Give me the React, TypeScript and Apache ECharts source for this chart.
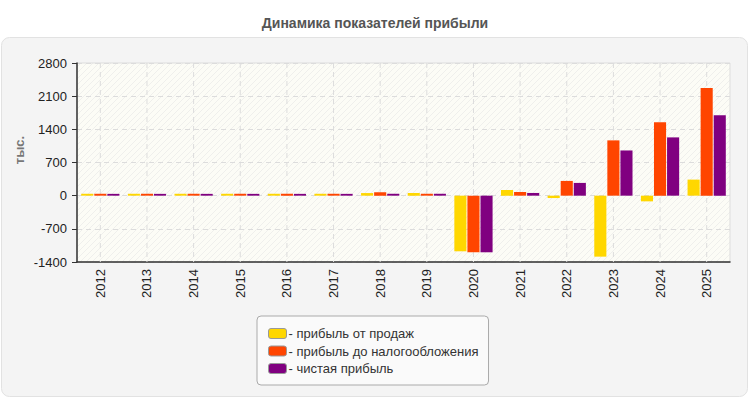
import React, { useEffect, useRef } from "react";
import * as echarts from "echarts";

const years = ["2012", "2013", "2014", "2015", "2016", "2017", "2018", "2019", "2020", "2021", "2022", "2023", "2024", "2025"];
const salesProfit = [40, 40, 40, 40, 40, 40, 55, 55, -1174, 120, -50, -1287, -120, 339];
const preTaxProfit = [40, 40, 40, 40, 40, 40, 70, 40, -1195, 78, 311, 1167, 1548, 2270];
const netProfit = [38, 38, 38, 38, 38, 38, 40, 40, -1195, 57, 269, 954, 1230, 1697];
const seriesNames = ["прибыль от продаж", "прибыль до налогообложения", "чистая прибыль"];
const seriesColors = ["#FFD700", "#FF4500", "#800080"];

function makeHatch(): HTMLCanvasElement {
  const c = document.createElement("canvas");
  c.width = 6;
  c.height = 6;
  const ctx = c.getContext("2d");
  if (ctx) {
    ctx.fillStyle = "#fcfcf6";
    ctx.fillRect(0, 0, 6, 6);
    ctx.strokeStyle = "#efefec";
    ctx.lineWidth = 1;
    ctx.beginPath();
    ctx.moveTo(0, 6);
    ctx.lineTo(6, 0);
    ctx.moveTo(-3, 3);
    ctx.lineTo(3, -3);
    ctx.moveTo(3, 9);
    ctx.lineTo(9, 3);
    ctx.stroke();
  }
  return c;
}

export default function App() {
  const ref = useRef<HTMLDivElement>(null);

  useEffect(() => {
    if (!ref.current) return;
    const chart = echarts.init(ref.current, null, { renderer: "svg" });
    const hatch = makeHatch();
    const font = "Arial, 'Liberation Sans', sans-serif";

    const barSeries = [salesProfit, preTaxProfit, netProfit].map((vals, i) => ({
      name: seriesNames[i],
      type: "bar",
      data: vals,
      barGap: "8%",
      barCategoryGap: "18%",
      itemStyle: { color: seriesColors[i] },
      z: 3,
    }));

    chart.setOption({
      animation: false,
      textStyle: { fontFamily: font },
      title: {
        text: "Динамика показателей прибыли",
        left: "center",
        top: 11,
        textStyle: { fontSize: 14, fontWeight: "bold", color: "#555", fontFamily: font },
      },
      graphic: [
        {
          type: "rect",
          z: -10,
          silent: true,
          shape: { x: 1.5, y: 37.5, width: 746, height: 359, r: 8 },
          style: { fill: "#f4f4f4", stroke: "#e2e2e2", lineWidth: 1 },
        },
        {
          type: "text",
          x: 19,
          y: 150,
          rotation: Math.PI / 2,
          silent: true,
          style: {
            text: "тыс.",
            fill: "#777",
            font: "bold 13px Arial, 'Liberation Sans', sans-serif",
            align: "center",
            verticalAlign: "middle",
          },
        },
      ],
      legend: {
        orient: "vertical",
        left: 257,
        top: 316,
        data: seriesNames,
        icon: "roundRect",
        itemWidth: 18,
        itemHeight: 10,
        itemGap: 4.5,
        padding: [11, 10, 10, 11],
        backgroundColor: "#fafafa",
        borderColor: "#aaaaaa",
        borderWidth: 1,
        borderRadius: 4,
        formatter: "- {name}",
        itemStyle: { borderColor: "#999", borderWidth: 1 },
        textStyle: { fontSize: 13, color: "#333", fontFamily: font, padding: [0, 0, 0, -3] },
      },
      grid: {
        left: 77,
        right: 20,
        top: 63,
        bottom: 138,
        show: true,
        backgroundColor: { image: hatch, repeat: "repeat" },
        borderColor: "#dddddd",
        borderWidth: 1,
      },
      xAxis: {
        type: "category",
        data: years,
        axisLine: { onZero: false, lineStyle: { color: "#333", width: 1.5 } },
        axisTick: { alignWithLabel: true, length: 5, lineStyle: { color: "#333" } },
        axisLabel: { rotate: 90, color: "#222", fontSize: 13, margin: 7, fontFamily: font },
        splitLine: { show: false },
      },
      yAxis: {
        type: "value",
        min: -1400,
        max: 2800,
        interval: 700,
        axisLine: { show: true, lineStyle: { color: "#333", width: 1.5 } },
        axisTick: { show: true, length: 5, lineStyle: { color: "#333" } },
        axisLabel: {
          color: "#222",
          fontSize: 13,
          margin: 10,
          fontFamily: font,
          formatter: (v: number) => String(v),
        },
        splitLine: { lineStyle: { color: "#dcdcdc", type: [5, 4] } },
      },
      series: [
        {
          type: "custom",
          silent: true,
          z: 1,
          data: years.map((y) => [y, 0]),
          encode: { x: 0, y: 1 },
          renderItem: (params: any, api: any) => {
            const x = api.coord([api.value(0), 0])[0];
            const cs = params.coordSys;
            return {
              type: "line",
              shape: { x1: x, y1: cs.y, x2: x, y2: cs.y + cs.height },
              style: { stroke: "#dcdcdc", lineWidth: 1, lineDash: [5, 4] },
            };
          },
        },
        ...barSeries,
      ],
    });

    return () => chart.dispose();
  }, []);

  return <div ref={ref} style={{ width: 750, height: 400, position: "absolute", left: 0, top: 0 }} />;
}
